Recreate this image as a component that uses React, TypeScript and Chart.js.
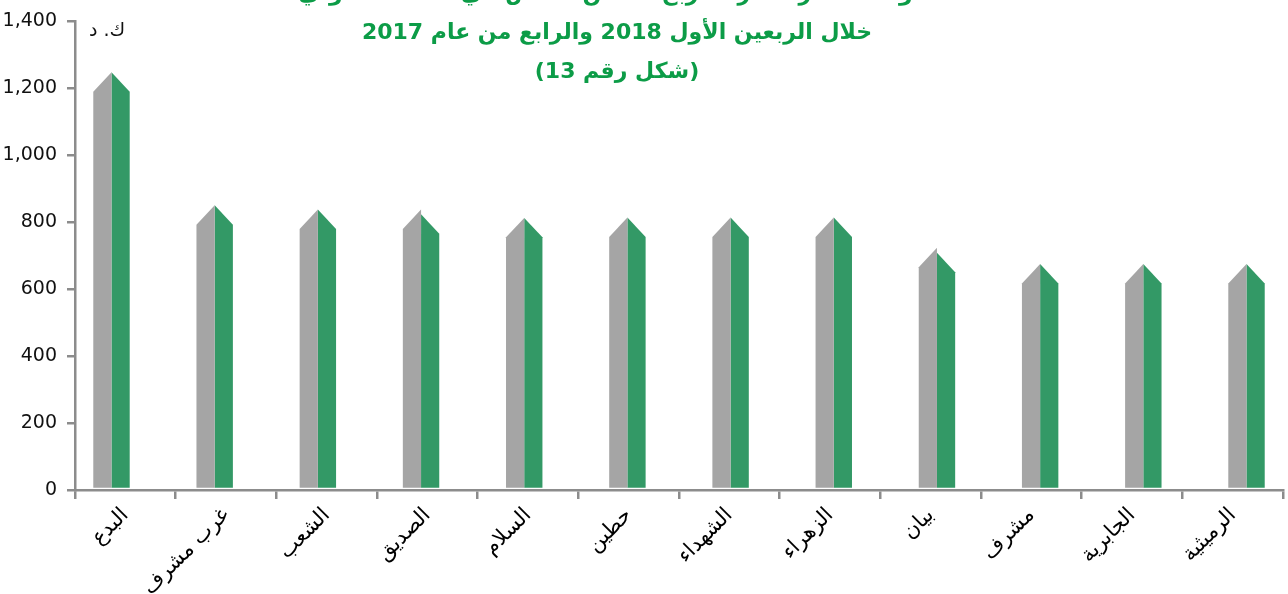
import { useEffect, useRef } from 'react';
import { Chart, registerables } from 'chart.js';

Chart.register(...registerables);

// ---- Data ----
const categories = [
  'البدع',
  'غرب مشرف',
  'الشعب',
  'الصديق',
  'السلام',
  'حطين',
  'الشهداء',
  'الزهراء',
  'بيان',
  'مشرف',
  'الجابرية',
  'الرميثية',
];

const seriesGreyName = 'الربع الرابع 2017';
const seriesGrey = [1248, 851, 838, 838, 813, 814, 814, 814, 724, 675, 675, 675];

const seriesGreenName = 'الربع الأول 2018';
const seriesGreen = [1248, 851, 838, 824, 813, 814, 814, 814, 709, 675, 675, 675];

const yMin = 0;
const yMax = 1400;
const yStep = 200;

const titleLines = [
  'متوسط سعر المتر المربع للسكن الخاص في محافظة حولي',
  'خلال الربعين الأول 2018 والرابع من عام 2017',
  '(شكل رقم 13)',
];
// logical order so that the RTL run shows as in the original picture
const unitLabel = 'ك. د';

// ---- Styles ----
const GREY = '#a5a5a5';
const GREEN = '#339966';
const TITLE_GREEN = '#0c9c47';
const AXIS = '#8c8c8c';
const PERSPECTIVE = 1.025;
const SLOPE = 1.07;

const pyramidPlugin = {
  id: 'pyramidBars',
  beforeDatasetDraw(chart: any, args: any) {
    const { ctx, chartArea } = chart;
    const mid = (chartArea.left + chartArea.right) / 2;
    const meta = args.meta;
    const ds = chart.data.datasets[args.index];
    const peakRight = args.index === 0;
    ctx.save();
    ctx.fillStyle = ds.backgroundColor;
    meta.data.forEach((el: any) => {
      const { x, y, base, width } = el.getProps(['x', 'y', 'base', 'width'], true);
      const cx = mid + (x - mid) * PERSPECTIVE;
      const w = width * PERSPECTIVE;
      const l = cx - w / 2;
      const r = cx + w / 2;
      const drop = w * SLOPE;
      const b = base - 1;
      ctx.beginPath();
      ctx.moveTo(l, b);
      ctx.lineTo(l, peakRight ? y + drop : y);
      ctx.lineTo(r, peakRight ? y : y + drop);
      ctx.lineTo(r, b);
      ctx.closePath();
      ctx.fill();
    });
    ctx.restore();
    return false;
  },
};

const titlePlugin = {
  id: 'titleText',
  afterDraw(chart: any) {
    const { ctx } = chart;
    ctx.save();
    ctx.font = 'bold 22px "DejaVu Sans"';
    ctx.fillStyle = TITLE_GREEN;
    ctx.textAlign = 'center';
    ctx.textBaseline = 'middle';
    ctx.direction = 'rtl';
    titleLines.forEach((t, i) => ctx.fillText(t, 617, -6 + i * 39));
    ctx.font = '19px "DejaVu Sans"';
    ctx.fillStyle = '#111';
    ctx.direction = 'ltr';
    ctx.fillText(unitLabel, 107, 31);
    ctx.restore();
  },
};

export default function App() {
  const ref = useRef<HTMLCanvasElement | null>(null);

  useEffect(() => {
    if (!ref.current) return;
    const chart = new Chart(ref.current, {
      type: 'bar',
      data: {
        labels: categories,
        datasets: [
          {
            label: seriesGreyName,
            data: seriesGrey,
            backgroundColor: GREY,
            categoryPercentage: 0.353,
            barPercentage: 1,
          },
          {
            label: seriesGreenName,
            data: seriesGreen,
            backgroundColor: GREEN,
            categoryPercentage: 0.353,
            barPercentage: 1,
          },
        ],
      },
      options: {
        animation: false,
        responsive: true,
        maintainAspectRatio: false,
        layout: { padding: { top: 18, right: 5, left: 0, bottom: 0 } },
        plugins: {
          legend: { display: false },
          tooltip: { enabled: false },
          title: { display: false },
        },
        scales: {
          x: {
            grid: {
              display: true,
              drawOnChartArea: false,
              drawTicks: true,
              tickLength: 9,
              color: AXIS,
              lineWidth: 2.5,
              offset: true,
            },
            border: { display: true, color: AXIS, width: 2.5 },
            ticks: {
              minRotation: 45,
              maxRotation: 45,
              autoSkip: false,
              padding: 4,
              color: '#000',
              font: { family: '"DejaVu Sans"', size: 21 },
            },
            afterFit(s: any) {
              s.height = 104;
            },
          },
          y: {
            min: yMin,
            max: yMax,
            ticks: {
              stepSize: yStep,
              padding: 10,
              color: '#111',
              font: { family: '"DejaVu Sans"', size: 19 },
            },
            grid: {
              drawOnChartArea: false,
              drawTicks: true,
              tickLength: 8,
              color: AXIS,
              lineWidth: 2.5,
            },
            border: { display: true, color: AXIS, width: 2.5 },
            afterFit(s: any) {
              s.width = 75;
            },
          },
        },
      },
      plugins: [pyramidPlugin, titlePlugin],
    });
    return () => chart.destroy();
  }, []);

  return (
    <div style={{ position: 'fixed', left: 0, top: 0, width: 1288, height: 594, background: '#fff' }}>
      <canvas ref={ref} />
    </div>
  );
}
